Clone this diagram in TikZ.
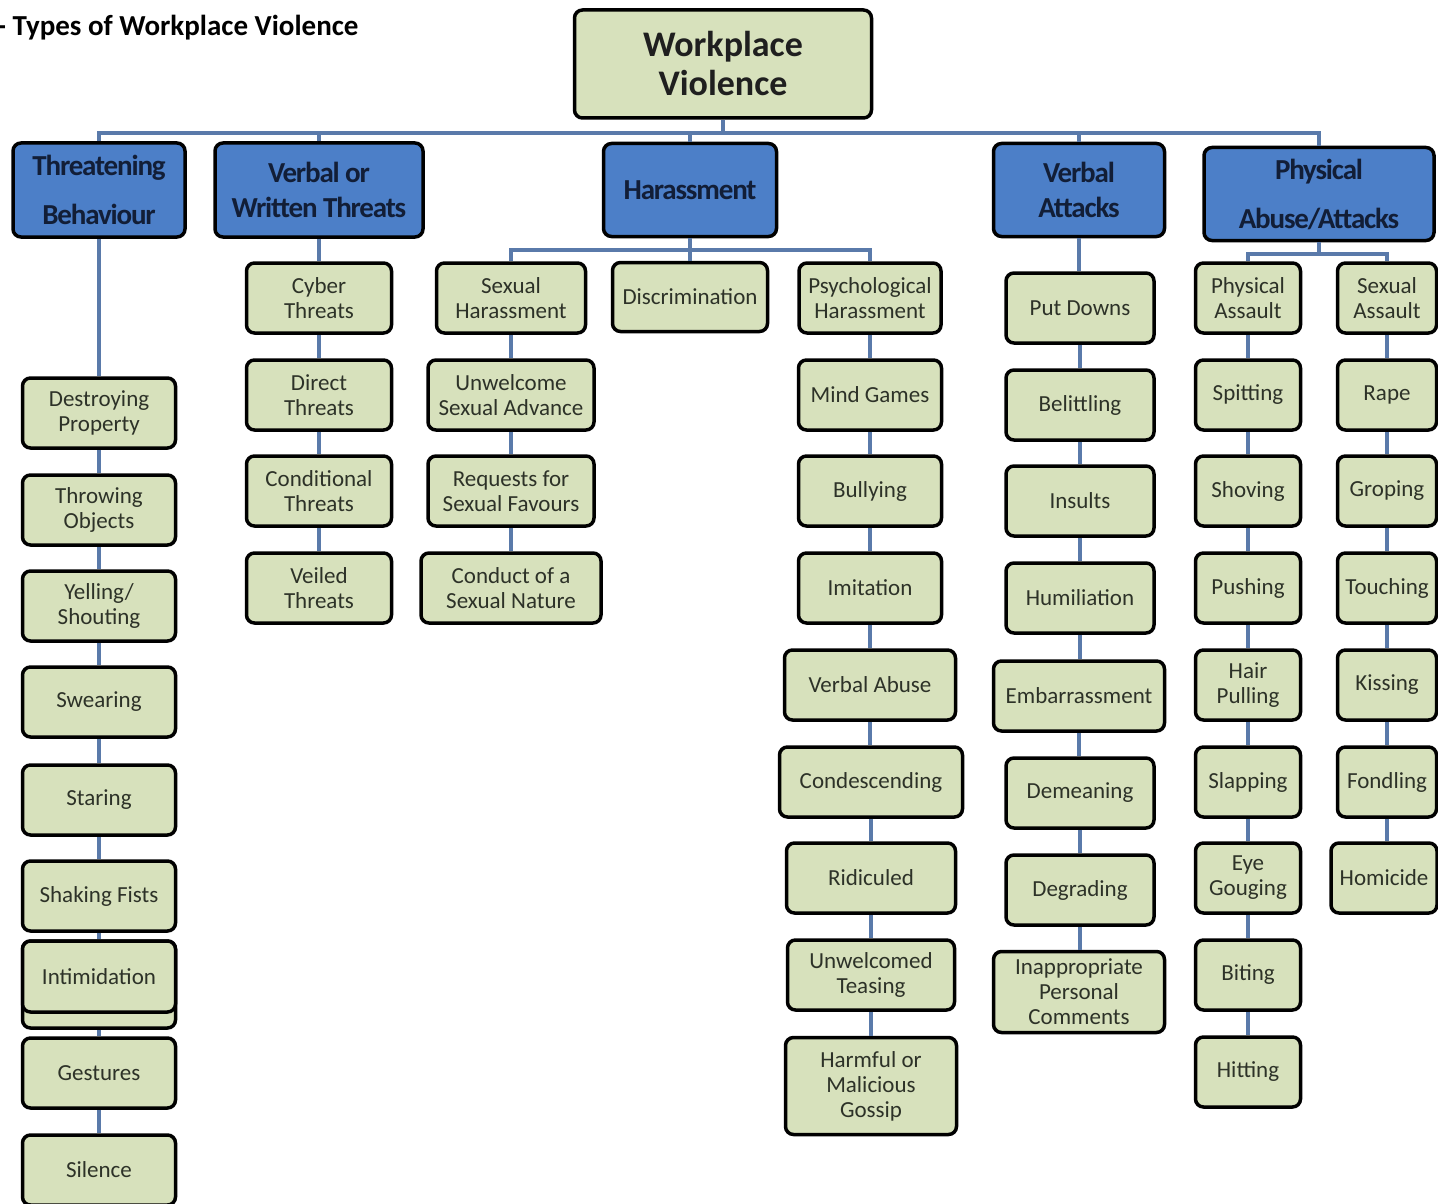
\documentclass[tikz,border=0pt]{standalone}
\usepackage{fontspec}
\setmainfont{Carlito}
\definecolor{gfill}{RGB}{215,225,188}
\definecolor{bfill}{RGB}{76,127,200}
\definecolor{conncol}{RGB}{90,122,170}
\definecolor{gtext}{RGB}{45,50,40}
\definecolor{btext}{RGB}{18,30,55}
\begin{document}
\begin{tikzpicture}[x=1pt,y=-1pt,
  base/.style={draw=black, line width=3.5pt, rounded corners=8pt, inner sep=2pt, align=center},
  gbox/.style={base, fill=gfill, text=gtext, font=\fontsize{23}{25}\selectfont},
  bbox/.style={base, fill=bfill, text=btext, font=\fontsize{29}{35}\selectfont\bfseries\addfontfeatures{LetterSpace=-4}},
  wide/.style={font=\fontsize{29}{49}\selectfont\bfseries\addfontfeatures{LetterSpace=-4}},
  sz/.style 2 args={minimum width=#1, minimum height=#2},
  link/.style={draw=conncol, line width=4pt},
]
\useasboundingbox (0,0) rectangle (1438,1204);
\fill[white] (0,0) rectangle (1438,1204);

\node[anchor=west, inner sep=0pt, font=\fontsize{29}{34}\selectfont\bfseries] (title) at (-3,28) {- Types of Workplace Violence};

% root
\node[base, fill=gfill, text=black!88, font=\fontsize{36}{39}\selectfont\bfseries, sz={297}{108}] (root) at (723,64) {Workplace\\Violence};

% level 1
\node[bbox, wide, sz={172}{94}] (tb) at (99,190) {Threatening\\Behaviour};
\node[bbox, sz={208}{94}] (vw) at (319,190) {Verbal or\\Written Threats};
\node[bbox, sz={173}{93}] (har) at (690,190) {Harassment};
\node[bbox, sz={171}{93}] (va) at (1079,190) {Verbal\\Attacks};
\node[bbox, wide, sz={230}{93}] (pa) at (1319,194) {Physical\\Abuse/Attacks};

% Threatening behaviour column
\node[gbox, sz={153}{70}] (t1) at (99,413) {Destroying\\Property};
\node[gbox, sz={153}{70}] (t2) at (99,510) {Throwing\\Objects};
\node[gbox, sz={153}{70}] (t3) at (99,606) {Yelling/\\Shouting};
\node[gbox, sz={153}{70}] (t4) at (99,702) {Swearing};
\node[gbox, sz={153}{70}] (t5) at (99,800) {Staring};
\node[gbox, sz={153}{70}] (t6) at (99,896) {Shaking Fists};
\node[gbox, sz={153}{87}] (t7b) at (99,984.5) {};
\node[gbox, sz={153}{71}] (t7) at (99,976.5) {Intimidation};
\node[gbox, sz={153}{70}] (t8) at (99,1073) {Gestures};
\node[gbox, sz={153}{70}] (t9) at (99,1170) {Silence};

% Verbal or written threats column
\node[gbox, sz={145}{70}] (w1) at (319,298) {Cyber\\Threats};
\node[gbox, sz={145}{70}] (w2) at (319,395) {Direct\\Threats};
\node[gbox, sz={145}{70}] (w3) at (319,491) {Conditional\\Threats};
\node[gbox, sz={145}{70}] (w4) at (319,588) {Veiled\\Threats};

% Harassment children
\node[gbox, sz={149}{70}] (sh) at (511,298) {Sexual\\Harassment};
\node[gbox, sz={155}{69}] (disc) at (690,297) {Discrimination};
\node[gbox, sz={142}{70}] (psy) at (870,298) {Psychological\\Harassment};

\node[gbox, sz={166}{70}] (s1) at (511,395) {Unwelcome\\Sexual Advance};
\node[gbox, sz={166}{70}] (s2) at (511,491) {Requests for\\Sexual Favours};
\node[gbox, sz={180}{70}] (s3) at (511,588) {Conduct of a\\Sexual Nature};

\node[gbox, sz={143}{70}] (p1) at (870,395) {Mind Games};
\node[gbox, sz={143}{70}] (p2) at (870,491) {Bullying};
\node[gbox, sz={143}{70}] (p3) at (870,588) {Imitation};
\node[gbox, sz={171}{70}] (p4) at (870,685) {Verbal Abuse};
\node[gbox, sz={183}{70}] (p5) at (871,782) {Condescending};
\node[gbox, sz={169}{70}] (p6) at (871,878) {Ridiculed};
\node[gbox, sz={167}{70}] (p7) at (871,975) {Unwelcomed\\Teasing};
\node[gbox, sz={171}{97}] (p8) at (871,1086) {Harmful or\\Malicious\\Gossip};

% Verbal attacks column
\node[gbox, sz={148}{70}] (v1) at (1080,308) {Put Downs};
\node[gbox, sz={148}{70}] (v2) at (1080,405) {Belittling};
\node[gbox, sz={148}{70}] (v3) at (1080,501) {Insults};
\node[gbox, sz={148}{70}] (v4) at (1080,598) {Humiliation};
\node[gbox, sz={171}{70}] (v5) at (1079,696) {Embarrassment};
\node[gbox, sz={148}{70}] (v6) at (1080,793) {Demeaning};
\node[gbox, sz={148}{70}] (v7) at (1080,890) {Degrading};
\node[gbox, sz={171}{81}] (v8) at (1079,992) {Inappropriate\\Personal\\Comments};

% Physical abuse children
\node[gbox, sz={105}{70}] (pas) at (1248,298) {Physical\\Assault};
\node[gbox, sz={99}{70}] (sas) at (1387,298) {Sexual\\Assault};

\node[gbox, sz={105}{70}] (a1) at (1248,395) {Spitting};
\node[gbox, sz={105}{70}] (a2) at (1248,491) {Shoving};
\node[gbox, sz={105}{70}] (a3) at (1248,588) {Pushing};
\node[gbox, sz={105}{70}] (a4) at (1248,685) {Hair\\Pulling};
\node[gbox, sz={105}{70}] (a5) at (1248,782) {Slapping};
\node[gbox, sz={105}{70}] (a6) at (1248,878) {Eye\\Gouging};
\node[gbox, sz={105}{70}] (a7) at (1248,975) {Biting};
\node[gbox, sz={105}{70}] (a8) at (1248,1072) {Hitting};

\node[gbox, sz={99}{70}] (x1) at (1387,395) {Rape};
\node[gbox, sz={99}{70}] (x2) at (1387,491) {Groping};
\node[gbox, sz={99}{70}] (x3) at (1387,588) {Touching};
\node[gbox, sz={99}{70}] (x4) at (1387,685) {Kissing};
\node[gbox, sz={99}{70}] (x5) at (1387,782) {Fondling};
\node[gbox, sz={106}{70}] (x6) at (1384,878) {Homicide};

% connectors: main bus
\draw[link] (root.south) -- ++(0,13) -| (tb.north);
\draw[link] (root.south) -- ++(0,13) -| (vw.north);
\draw[link] (root.south) -- ++(0,13) -| (har.north);
\draw[link] (root.south) -- ++(0,13) -| (va.north);
\draw[link] (root.south) -- ++(0,13) -| (pa.north);

% harassment bus
\draw[link] (har.south) -- ++(0,12) -| (sh.north);
\draw[link] (har.south) -- (disc.north);
\draw[link] (har.south) -- ++(0,12) -| (psy.north);

% physical bus
\draw[link] (pa.south) -- ++(0,12) -| (pas.north);
\draw[link] (pa.south) -- ++(0,12) -| (sas.north);

% columns (vertical connectors)
\foreach \a/\b in {tb/t1,t1/t2,t2/t3,t3/t4,t4/t5,t5/t6,t6/t7,t7b/t8,t8/t9,
                   vw/w1,w1/w2,w2/w3,w3/w4,
                   sh/s1,s1/s2,s2/s3,
                   psy/p1,p1/p2,p2/p3,p3/p4,p4/p5,p5/p6,p6/p7,p7/p8,
                   va/v1,v1/v2,v2/v3,v3/v4,v4/v5,v5/v6,v6/v7,v7/v8,
                   pas/a1,a1/a2,a2/a3,a3/a4,a4/a5,a5/a6,a6/a7,a7/a8,
                   sas/x1,x1/x2,x2/x3,x3/x4,x4/x5,x5/x6}
  \draw[link] (\a.south) -- (\a.south |- \b.north);
\end{tikzpicture}
\end{document}
